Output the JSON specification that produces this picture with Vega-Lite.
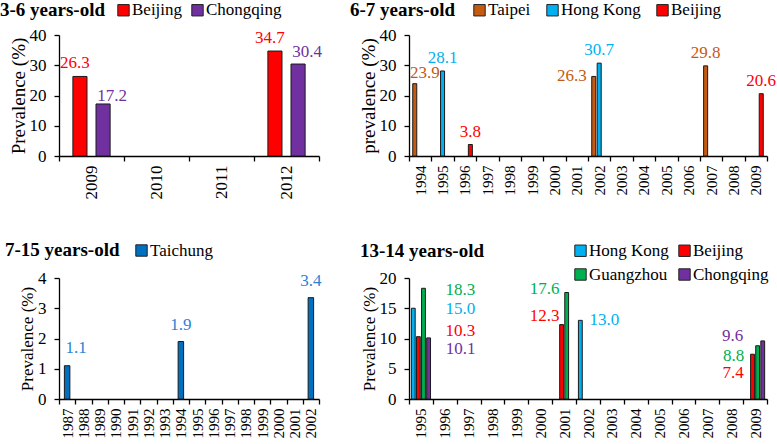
{
  "$schema": "https://vega.github.io/schema/vega-lite/v6.json",
  "padding": 0,
  "columns": 2,
  "spacing": {"row": 122, "column": 90},
  "bounds": "flush",
  "resolve": {
    "scale": {"x": "independent", "y": "independent", "color": "independent", "xOffset": "independent"},
    "axis": {"x": "independent", "y": "independent"},
    "legend": {"color": "independent"}
  },
  "config": {
    "font": "Liberation Serif, Times New Roman, Times, DejaVu Serif, serif",
    "view": {"stroke": null},
    "axis": {"domainColor": "#000", "domainWidth": 1.3, "tickColor": "#000", "tickWidth": 1.3, "tickSize": 5, "labelColor": "#000", "titleColor": "#000", "grid": false, "titleFontWeight": "normal", "labelFontSize": 17, "titleFontSize": 19},
    "axisX": {"labelAngle": -90, "tickBand": "extent", "title": null, "labelPadding": 4},
    "axisY": {"labelPadding": 8, "titlePadding": 1},
    "legend": {"labelFontSize": 17, "labelColor": "#000", "symbolType": "square", "symbolSize": 130, "symbolStrokeColor": "#222", "symbolStrokeWidth": 1, "symbolOpacity": 1, "labelOffset": 0, "padding": 0},
    "title": {"fontSize": 19, "fontWeight": "bold", "color": "#000", "anchor": "start", "frame": "group", "baseline": "alphabetic"}
  },
  "datasets": {
    "p1": [
      {"year": "2009", "city": "Beijing", "value": 26.3},
      {"year": "2009", "city": "Chongqing", "value": 17.2},
      {"year": "2012", "city": "Beijing", "value": 34.7},
      {"year": "2012", "city": "Chongqing", "value": 30.4}
    ],
    "p2": [
      {"year": "1994", "city": "Taipei", "value": 23.9},
      {"year": "1995", "city": "Hong Kong", "value": 28.1},
      {"year": "1996", "city": "Beijing", "value": 3.8},
      {"year": "2002", "city": "Taipei", "value": 26.3},
      {"year": "2002", "city": "Hong Kong", "value": 30.7},
      {"year": "2007", "city": "Taipei", "value": 29.8},
      {"year": "2009", "city": "Beijing", "value": 20.6}
    ],
    "p3": [
      {"year": "1987", "city": "Taichung", "value": 1.1},
      {"year": "1994", "city": "Taichung", "value": 1.9},
      {"year": "2002", "city": "Taichung", "value": 3.35}
    ],
    "p4": [
      {"year": "1995", "city": "Hong Kong", "value": 15.0},
      {"year": "1995", "city": "Beijing", "value": 10.3},
      {"year": "1995", "city": "Guangzhou", "value": 18.3},
      {"year": "1995", "city": "Chongqing", "value": 10.1},
      {"year": "2001", "city": "Beijing", "value": 12.3},
      {"year": "2001", "city": "Guangzhou", "value": 17.6},
      {"year": "2002", "city": "Hong Kong", "value": 13.0},
      {"year": "2009", "city": "Beijing", "value": 7.4},
      {"year": "2009", "city": "Guangzhou", "value": 8.8},
      {"year": "2009", "city": "Chongqing", "value": 9.6}
    ]
  },
  "concat": [
    {
      "width": 260, "height": 121,
      "data": {"name": "p1"},
      "title": {"text": "3-6 years-old", "dx": -59, "offset": -18},
      "encoding": {
        "x": {"field": "year", "type": "nominal", "scale": {"domain": ["2009", "2010", "2011", "2012"], "paddingInner": 0, "paddingOuter": 0}, "axis": {"labelFontSize": 17}},
        "xOffset": {"field": "city", "type": "nominal", "scale": {"domain": ["Beijing", "Chongqing"], "paddingInner": 0.39, "paddingOuter": 0.6}},
        "y": {"field": "value", "type": "quantitative", "scale": {"domain": [0, 40], "nice": false}, "axis": {"values": [0, 10, 20, 30, 40], "title": "Prevalence (%)"}},
        "color": {"field": "city", "type": "nominal", "scale": {"domain": ["Beijing", "Chongqing"], "range": ["#ff0000", "#7030a0"]}, "legend": {"title": null, "orient": "none", "direction": "horizontal", "legendX": 56, "legendY": -33.5, "columnPadding": 6}}
      },
      "layer": [
        {"mark": {"type": "bar", "stroke": "#1a1a1a", "strokeWidth": 1}},
        {"transform": [{"filter": "datum.city == 'Beijing'"}], "mark": {"type": "text", "baseline": "alphabetic", "fontSize": 17, "dx": -5, "dy": -8}, "encoding": {"text": {"field": "value", "format": ".1f"}}},
        {"transform": [{"filter": "datum.city == 'Chongqing' && datum.year == '2009'"}], "mark": {"type": "text", "baseline": "alphabetic", "fontSize": 17, "dx": 9, "dy": -3}, "encoding": {"text": {"field": "value", "format": ".1f"}}},
        {"transform": [{"filter": "datum.city == 'Chongqing' && datum.year == '2012'"}], "mark": {"type": "text", "baseline": "alphabetic", "fontSize": 17, "dx": 9, "dy": -7}, "encoding": {"text": {"field": "value", "format": ".1f"}}}
      ]
    },
    {
      "width": 358, "height": 121,
      "data": {"name": "p2"},
      "title": {"text": "6-7 years-old", "dx": -59, "offset": -18},
      "encoding": {
        "x": {"field": "year", "type": "nominal", "scale": {"domain": ["1994", "1995", "1996", "1997", "1998", "1999", "2000", "2001", "2002", "2003", "2004", "2005", "2006", "2007", "2008", "2009"], "paddingInner": 0, "paddingOuter": 0}, "axis": {"labelFontSize": 15}},
        "xOffset": {"field": "city", "type": "nominal", "scale": {"domain": ["Taipei", "Hong Kong", "Beijing"], "paddingInner": 0.26, "paddingOuter": 0.69}},
        "y": {"field": "value", "type": "quantitative", "scale": {"domain": [0, 40], "nice": false}, "axis": {"values": [0, 10, 20, 30, 40], "title": "prevalence (%)"}},
        "color": {"field": "city", "type": "nominal", "scale": {"domain": ["Taipei", "Hong Kong", "Beijing"], "range": ["#c55a11", "#00b0f0", "#ff0000"]}, "legend": {"title": null, "orient": "none", "direction": "horizontal", "legendX": 62, "legendY": -33.5, "columnPadding": 13}}
      },
      "layer": [
        {"mark": {"type": "bar", "stroke": "#1a1a1a", "strokeWidth": 1}},
        {"transform": [{"filter": "!(datum.city == 'Taipei' && (datum.year == '1994' || datum.year == '2002'))"}], "mark": {"type": "text", "baseline": "alphabetic", "fontSize": 17, "dx": 0, "dy": -8}, "encoding": {"text": {"field": "value", "format": ".1f"}}},
        {"transform": [{"filter": "datum.city == 'Taipei' && datum.year == '1994'"}], "mark": {"type": "text", "baseline": "alphabetic", "fontSize": 17, "dx": 10, "dy": -6}, "encoding": {"text": {"field": "value", "format": ".1f"}}},
        {"transform": [{"filter": "datum.city == 'Taipei' && datum.year == '2002'"}], "mark": {"type": "text", "baseline": "alphabetic", "fontSize": 17, "dx": -22, "dy": 5}, "encoding": {"text": {"field": "value", "format": ".1f"}}}
      ]
    },
    {
      "width": 260, "height": 121,
      "data": {"name": "p3"},
      "title": {"text": "7-15 years-old", "dx": -54, "offset": -17.5},
      "encoding": {
        "x": {"field": "year", "type": "nominal", "scale": {"domain": ["1987", "1988", "1989", "1990", "1991", "1992", "1993", "1994", "1995", "1996", "1997", "1998", "1999", "2000", "2001", "2002"], "paddingInner": 0, "paddingOuter": 0}, "axis": {"labelFontSize": 15}},
        "xOffset": {"field": "city", "type": "nominal", "scale": {"domain": ["Taichung"], "paddingInner": 0, "paddingOuter": 0.98}},
        "y": {"field": "value", "type": "quantitative", "scale": {"domain": [0, 4], "nice": false}, "axis": {"values": [0, 1, 2, 3, 4], "title": "Prevalence (%)", "titleFontSize": 17}},
        "color": {"field": "city", "type": "nominal", "scale": {"domain": ["Taichung"], "range": ["#0070c0"]}, "legend": {"title": null, "orient": "none", "direction": "horizontal", "legendX": 74, "legendY": -36}}
      },
      "layer": [
        {"mark": {"type": "bar", "stroke": "#1a1a1a", "strokeWidth": 1}},
        {"transform": [{"filter": "datum.year == '1987'"}], "mark": {"type": "text", "baseline": "alphabetic", "fontSize": 17, "dx": 9, "dy": -13}, "encoding": {"text": {"field": "value", "format": ".1f"}, "color": {"value": "#2a84d4"}}},
        {"transform": [{"filter": "datum.year != '1987'"}], "mark": {"type": "text", "baseline": "alphabetic", "fontSize": 17, "dx": 0, "dy": -12}, "encoding": {"text": {"field": "value", "format": ".1f"}, "color": {"value": "#2a84d4"}}}
      ]
    },
    {
      "width": 358, "height": 121,
      "data": {"name": "p4"},
      "title": {"text": "13-14 years-old", "dx": -49, "offset": -18.5},
      "encoding": {
        "x": {"field": "year", "type": "nominal", "scale": {"domain": ["1995", "1996", "1997", "1998", "1999", "2000", "2001", "2002", "2003", "2004", "2005", "2006", "2007", "2008", "2009"], "paddingInner": 0, "paddingOuter": 0}, "axis": {"labelFontSize": 15}},
        "xOffset": {"field": "city", "type": "nominal", "scale": {"domain": ["Hong Kong", "Beijing", "Guangzhou", "Chongqing"], "paddingInner": 0.25, "paddingOuter": 0.46}},
        "y": {"field": "value", "type": "quantitative", "scale": {"domain": [0, 20], "nice": false}, "axis": {"values": [0, 5, 10, 15, 20], "title": "Prevalence (%)", "titleFontSize": 17}},
        "color": {"field": "city", "type": "nominal", "scale": {"domain": ["Hong Kong", "Beijing", "Guangzhou", "Chongqing"], "range": ["#00b0f0", "#ff0000", "#00b050", "#7030a0"]}, "legend": {"title": null, "orient": "none", "direction": "horizontal", "columns": 2, "legendX": 163, "legendY": -36, "columnPadding": 7, "rowPadding": 6}}
      },
      "layer": [
        {"mark": {"type": "bar", "stroke": "#1a1a1a", "strokeWidth": 1}},
        {"transform": [{"filter": "datum.city == 'Guangzhou' && datum.year == '1995'"}], "mark": {"type": "text", "baseline": "alphabetic", "fontSize": 17, "dx": 37, "dy": 7}, "encoding": {"text": {"field": "value", "format": ".1f"}}},
        {"transform": [{"filter": "datum.city == 'Hong Kong' && datum.year == '1995'"}], "mark": {"type": "text", "baseline": "alphabetic", "fontSize": 17, "dx": 47, "dy": 5.5}, "encoding": {"text": {"field": "value", "format": ".1f"}}},
        {"transform": [{"filter": "datum.city == 'Beijing' && datum.year == '1995'"}], "mark": {"type": "text", "baseline": "alphabetic", "fontSize": 17, "dx": 42, "dy": -1}, "encoding": {"text": {"field": "value", "format": ".1f"}}},
        {"transform": [{"filter": "datum.city == 'Chongqing' && datum.year == '1995'"}], "mark": {"type": "text", "baseline": "alphabetic", "fontSize": 17, "dx": 32, "dy": 16.5}, "encoding": {"text": {"field": "value", "format": ".1f"}}},
        {"transform": [{"filter": "datum.city == 'Guangzhou' && datum.year == '2001'"}], "mark": {"type": "text", "baseline": "alphabetic", "fontSize": 17, "dx": -22, "dy": 1}, "encoding": {"text": {"field": "value", "format": ".1f"}}},
        {"transform": [{"filter": "datum.city == 'Beijing' && datum.year == '2001'"}], "mark": {"type": "text", "baseline": "alphabetic", "fontSize": 17, "dx": -17, "dy": -4}, "encoding": {"text": {"field": "value", "format": ".1f"}}},
        {"transform": [{"filter": "datum.city == 'Hong Kong' && datum.year == '2002'"}], "mark": {"type": "text", "baseline": "alphabetic", "fontSize": 17, "dx": 24, "dy": 5}, "encoding": {"text": {"field": "value", "format": ".1f"}}},
        {"transform": [{"filter": "datum.city == 'Chongqing' && datum.year == '2009'"}], "mark": {"type": "text", "baseline": "alphabetic", "fontSize": 17, "dx": -30, "dy": 0}, "encoding": {"text": {"field": "value", "format": ".1f"}}},
        {"transform": [{"filter": "datum.city == 'Guangzhou' && datum.year == '2009'"}], "mark": {"type": "text", "baseline": "alphabetic", "fontSize": 17, "dx": -24, "dy": 15.5}, "encoding": {"text": {"field": "value", "format": ".1f"}}},
        {"transform": [{"filter": "datum.city == 'Beijing' && datum.year == '2009'"}], "mark": {"type": "text", "baseline": "alphabetic", "fontSize": 17, "dx": -19.5, "dy": 24}, "encoding": {"text": {"field": "value", "format": ".1f"}}}
      ]
    }
  ]
}
